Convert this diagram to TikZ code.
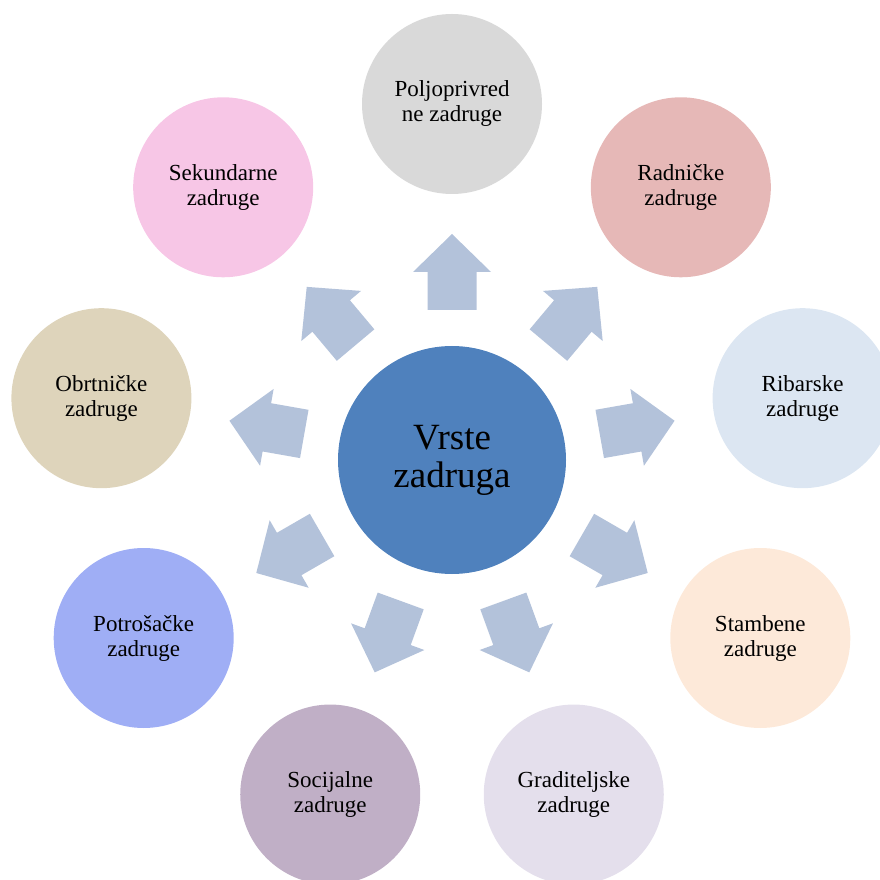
\documentclass[tikz,border=0pt]{standalone}
\usepackage{fontspec}
\setmainfont{Liberation Serif}
\usetikzlibrary{calc}

\definecolor{centreblue}{HTML}{4F81BD}
\definecolor{arrowblue}{HTML}{B3C2DA}
\definecolor{cpolj}{HTML}{D9D9D9}
\definecolor{cradn}{HTML}{E6B8B7}
\definecolor{cribar}{HTML}{DCE6F2}
\definecolor{cstamb}{HTML}{FDE9D9}
\definecolor{cgradi}{HTML}{E4DFEC}
\definecolor{csocij}{HTML}{C0AFC6}
\definecolor{cpotro}{HTML}{9FAEF5}
\definecolor{cobrt}{HTML}{DED4BB}
\definecolor{csekun}{HTML}{F7C6E6}

\tikzset{every picture/.style={line width=0.75pt}}
\tikzset{
  vrstabox/.style={circle, draw=none, minimum size=180pt, inner sep=0pt, align=center,
    font=\fontsize{23}{25}\selectfont},
  centrebox/.style={circle, draw=none, fill=centreblue, minimum size=228pt, inner sep=0pt,
    align=center, font=\fontsize{37}{38}\selectfont},
  blockarrow/.style={fill=arrowblue, draw=none}
}

\begin{document}
\begin{tikzpicture}[x=1pt,y=1pt]
  \useasboundingbox (0,0) rectangle (880,879);
  \clip (0,0) rectangle (880,879);

  % Centre
  \node[centrebox] (vrste) at (452,419) {Vrste\\zadruga};

  % Arrows
  \foreach \a in {90,50,10,-30,-70,-110,-150,-190,130}{
    \begin{scope}[shift={(vrste.center)}, rotate=\a]
      \fill[blockarrow] (150,-24.5) -- (188,-24.5) -- (188,-39) -- (226,0)
        -- (188,39) -- (188,24.5) -- (150,24.5) -- cycle;
    \end{scope}
  }

  % Outer circles
  \node[vrstabox, fill=cpolj]  (polj)  at ($(vrste)+(90:356)$)   {Poljoprivred\\ne zadruge};
  \node[vrstabox, fill=cradn]  (radn)  at ($(vrste)+(50:356)$)   {Radničke\\zadruge};
  \node[vrstabox, fill=cribar] (ribar) at ($(vrste)+(10:356)$)   {Ribarske\\zadruge};
  \node[vrstabox, fill=cstamb] (stamb) at ($(vrste)+(-30:356)$)  {Stambene\\zadruge};
  \node[vrstabox, fill=cgradi] (gradi) at ($(vrste)+(-70:356)$)  {Graditeljske\\zadruge};
  \node[vrstabox, fill=csocij] (socij) at ($(vrste)+(-110:356)$) {Socijalne\\zadruge};
  \node[vrstabox, fill=cpotro] (potro) at ($(vrste)+(-150:356)$) {Potrošačke\\zadruge};
  \node[vrstabox, fill=cobrt]  (obrt)  at ($(vrste)+(170:356)$)  {Obrtničke\\zadruge};
  \node[vrstabox, fill=csekun] (sekun) at ($(vrste)+(130:356)$)  {Sekundarne\\zadruge};

\end{tikzpicture}
\end{document}
